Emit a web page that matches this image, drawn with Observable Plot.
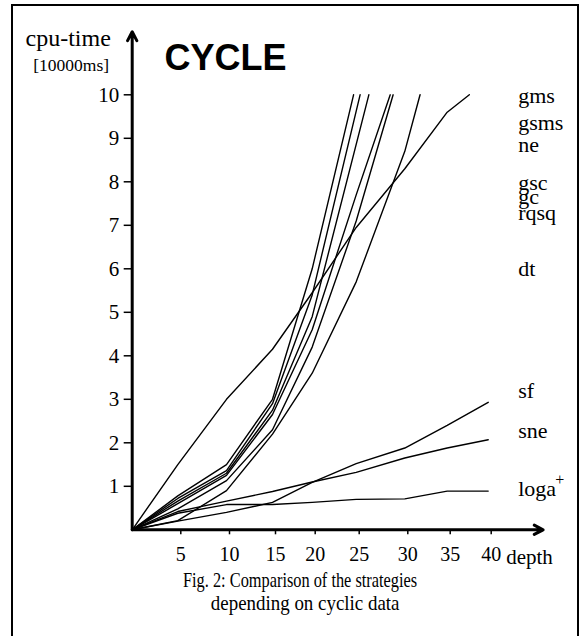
<!DOCTYPE html>
<html><head><meta charset="utf-8">
<script src="https://cdn.jsdelivr.net/npm/d3@7"></script>
<script src="https://cdn.jsdelivr.net/npm/@observablehq/plot@0.6"></script>
<style>
body{margin:0;background:#fff;}
#frame{position:absolute;left:11px;top:4px;width:568px;height:640px;border:2px solid #000;box-sizing:border-box;}
#chart{position:absolute;left:0;top:0;}
.cap{position:absolute;left:0;width:600px;text-align:center;font-family:"Liberation Serif","Times New Roman",serif;font-size:21.5px;white-space:nowrap;color:#000;}
.cap span{display:inline-block;}
</style></head><body>
<div id="frame"></div>
<div id="chart"></div>
<div class="cap" style="top:568px"><span style="transform:scaleX(0.76)">Fig. 2: Comparison of the strategies</span></div>
<div class="cap" style="top:591px;left:5px"><span style="transform:scaleX(0.88)">depending on cyclic data</span></div>
<script>
// x ticks (depth) and y ticks (cpu-time, 10000ms)
const depthTicks = [5, 10, 15, 20, 25, 30, 35, 40];
const valueTicks = [1, 2, 3, 4, 5, 6, 7, 8, 9, 10];

// series: [depth, cpu-time]
const gms  = [[0,0],[5,0.78],[10,1.5],[15,3.0],[20,6.0],[24.7,10]];
const gsms = [[0,0],[5,0.72],[10,1.36],[15,2.9],[20,5.4],[25.4,10]];
const ne   = [[0,0],[5,0.66],[10,1.3],[15,2.75],[20,4.9],[26.3,10]];
const gsc  = [[0,0],[5,0.6],[10,1.25],[15,2.65],[20,4.6],[25,7.7],[28.5,10]];
const gc   = [[0,0],[5,0.48],[10,1.13],[15,2.3],[20,4.2],[25,7.1],[28.8,10]];
const rqsq = [[0,0],[5,0.21],[10,0.9],[15,2.2],[20,3.6],[25,5.7],[30,8.7],[31.8,10]];
const dt   = [[0,0],[5,1.5],[10,3.0],[15,4.15],[20,5.45],[25,6.95],[30,8.3],[35,9.6],[37.7,10]];
const sf   = [[0,0],[5,0.2],[10,0.4],[15,0.63],[20,1.09],[25,1.52],[30,1.88],[35,2.4],[40,2.93]];
const sne  = [[0,0],[5,0.42],[10,0.66],[15,0.88],[20,1.1],[25,1.32],[30,1.65],[35,1.88],[40,2.07]];
const loga = [[0,0],[5,0.38],[10,0.58],[15,0.58],[20,0.63],[25,0.7],[30,0.71],[35,0.89],[40,0.89]];

const seriesNames = ["gms", "gsms", "ne", "gsc", "gc", "rqsq", "dt", "sf", "sne", "loga"];
const seriesData = [gms, gsms, ne, gsc, gc, rqsq, dt, sf, sne, loga];
// label heights on the right, in cpu-time units
const labelValues = [9.98, 9.35, 8.85, 7.97, 7.66, 7.28, 6.0, 3.2, 2.28, 0.94];

const axisEnd = {depth: 46.7, value: 11.45};

const rows = seriesData.flatMap((s, i) => s.map(([d, v]) => ({series: seriesNames[i], depth: d, value: v})));
const labels = seriesNames.map((n, i) => ({name: n, value: labelValues[i]}));

const serif = "Liberation Serif, Times New Roman, serif";
const W = 585, H = 575;
const lastTick = depthTicks[depthTicks.length - 1];

const chart = Plot.plot({
  width: W, height: H,
  marginLeft: 131.7, marginRight: W - 487.7, marginTop: 94.3, marginBottom: H - 529.3,
  style: {fontFamily: serif, background: "transparent", color: "#000"},
  x: {type: "linear", domain: [0, ...depthTicks], range: [131.7, 177.3, 226, 272, 311.7, 355.7, 404.3, 446.7, 487.7]},
  y: {domain: [0, 10]},
  marks: [
    Plot.axisX({ticks: depthTicks, tickSize: 5, tickPadding: 12, fontSize: 20, label: null, dx: 3, strokeWidth: 1.5}),
    Plot.axisY({ticks: valueTicks, tickSize: 8, tickPadding: 5, fontSize: 21, label: null, strokeWidth: 1.5}),
    Plot.line(rows, {x: "depth", y: "value", z: "series", stroke: "#000", strokeWidth: 1.4}),
    Plot.arrow([axisEnd], {x1: 0, y1: 0, x2: 0, y2: "value", strokeWidth: 3, headLength: 5, headAngle: 55, stroke: "#000"}),
    Plot.arrow([axisEnd], {x1: 0, y1: 0, x2: "depth", y2: 0, strokeWidth: 3, headLength: 5, headAngle: 55, stroke: "#000"}),
    Plot.text(labels, {x: () => lastTick, y: "value", text: "name", dx: 30, textAnchor: "start", fontSize: 22, fontFamily: serif}),
    Plot.text(["+"], {x: () => lastTick, y: () => labelValues[labelValues.length - 1], dx: 67, dy: -9, fontSize: 16, textAnchor: "start", fontFamily: serif}),
    Plot.text(["depth"], {x: () => lastTick, y: () => 0, dx: 18, dy: 27, textAnchor: "start", fontSize: 21, fontFamily: serif}),
    Plot.text(["CYCLE"], {frameAnchor: "top-left", dx: 32.3, dy: -50.8, textAnchor: "start", fontSize: 36, fontWeight: "bold", fontFamily: "Liberation Sans, Arial, sans-serif"}),
    Plot.text(["cpu-time"], {frameAnchor: "top-left", dx: -106.7, dy: -66, textAnchor: "start", fontSize: 24, fontFamily: serif}),
    Plot.text(["[10000ms]"], {frameAnchor: "top-left", dx: -99, dy: -36, textAnchor: "start", fontSize: 17.5, fontFamily: serif})
  ]
});
document.getElementById("chart").appendChild(chart);
</script>
</body></html>
